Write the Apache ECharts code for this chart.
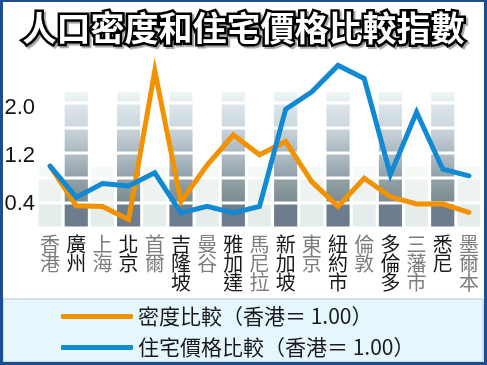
<!DOCTYPE html>
<html>
<head>
<meta charset="utf-8">
<script src="https://cdn.jsdelivr.net/npm/echarts@6/dist/echarts.min.js"></script>
<style>
html,body{margin:0;padding:0;background:#fff;}
#chart{width:487px;height:365px;}
</style>
</head>
<body>
<div id="chart"></div>
<script>
const categories = ['香港','廣州','上海','北京','首爾','吉隆坡','曼谷','雅加達','馬尼拉','新加坡','東京','紐約市','倫敦','多倫多','三藩市','悉尼','墨爾本'];
const densityIndex = [1.03,0.37,0.36,0.14,2.62,0.44,1.05,1.55,1.22,1.44,0.77,0.36,0.83,0.52,0.40,0.40,0.26];
const priceIndex = [1.03,0.51,0.74,0.70,0.92,0.25,0.36,0.25,0.36,1.98,2.27,2.71,2.49,0.89,1.93,0.98,0.87];
const yTickLabels = [0.4, 1.2, 2.0];
const seriesNames = ['密度比較（香港＝ 1.00）', '住宅價格比較（香港＝ 1.00）'];
// decorative background column bands (heights of stacked bands)
const darkBands = [0.4, 0.4, 0.4, 0.4, 0.4, 0.2];
const lightBands = [0.4, 0.4, 0.2];

const darkColors = [
  ['#6f7e8f', '#6c7b8c'],
  ['#93a3a6', '#7a8c91'],
  ['#b4c0c7', '#8e9ea8'],
  ['#cbd5db', '#aab7c0'],
  ['#dde7eb', '#cad7de'],
  ['#f1f7f6', '#e3ecee']
];
const lightColors = ['#e5ecec', '#eef3f2', '#f5f9f8'];

function grad(c) {
  return new echarts.graphic.LinearGradient(0, 0, 0, 1, [
    {offset: 0, color: c[0]}, {offset: 1, color: c[1]}
  ]);
}

const bandSeries = [];
const nBands = Math.max(darkBands.length, lightBands.length);
for (let b = 0; b < nBands; b++) {
  const data = categories.map((c, i) => {
    const dark = i % 2 === 1;
    const v = dark ? (darkBands[b] || 0) : (lightBands[b] || 0);
    return {
      value: v,
      itemStyle: {color: dark ? grad(darkColors[b]) : lightColors[b]}
    };
  });
  bandSeries.push({
    type: 'bar',
    stack: 'bg',
    yAxisIndex: 1,
    barCategoryGap: '0%',
    silent: true,
    itemStyle: {borderColor: '#ffffff', borderWidth: 1.5},
    data: data,
    z: 1
  });
}

const chart = echarts.init(document.getElementById('chart'));
chart.setOption({
  animation: false,
  backgroundColor: '#ffffff',
  title: {
    text: '人口密度和住宅價格比較指數',
    left: 'center',
    top: 11,
    padding: 0,
    textStyle: {
      fontFamily: 'Noto Sans CJK TC',
      fontSize: 34,
      fontWeight: 'bold',
      color: '#ffffff',
      textBorderColor: '#000000',
      textBorderWidth: 5,
      textShadowColor: 'rgba(0,0,0,0.35)',
      textShadowOffsetX: 2,
      textShadowOffsetY: 2,
      textShadowBlur: 1
    }
  },
  graphic: [
    {type: 'rect', z: -10, shape: {x: 3, y: 299, width: 480, height: 63},
     style: {fill: '#e6f6fd', stroke: '#b3c1cf', lineWidth: 1}},
    {type: 'rect', z: 100, shape: {x: 0, y: 0, width: 487, height: 2}, style: {fill: '#1c4d8c'}},
    {type: 'rect', z: 100, shape: {x: 0, y: 0, width: 3, height: 365}, style: {fill: '#1c4d8c'}},
    {type: 'rect', z: 100, shape: {x: 484, y: 0, width: 3, height: 365}, style: {fill: '#1c4d8c'}},
    {type: 'rect', z: 100, shape: {x: 0, y: 362, width: 487, height: 3}, style: {fill: '#1c4d8c'}}
  ],
  legend: {
    data: seriesNames,
    orient: 'vertical',
    left: 61,
    top: 306,
    icon: 'roundRect',
    itemWidth: 72,
    itemHeight: 5,
    itemGap: 10,
    padding: 0,
    textStyle: {fontFamily: 'Noto Sans CJK TC', fontSize: 21, lineHeight: 21, color: '#1a1a1a'}
  },
  grid: {left: 37, right: 5, top: 48, bottom: 137, containLabel: false},
  xAxis: {
    type: 'category',
    data: categories,
    boundaryGap: true,
    axisLine: {show: false},
    axisTick: {show: false},
    axisLabel: {
      interval: 0,
      margin: 7,
      fontFamily: 'Noto Sans CJK TC',
      fontSize: 20,
      lineHeight: 19,
      verticalAlign: 'top',
      color: function (v, i) { return i % 2 === 1 ? '#1a1a1a' : '#7d7d7d'; },
      formatter: function (v) { return v.split('').join('\n'); }
    }
  },
  yAxis: [
    {
      type: 'value',
      min: 0,
      max: 3,
      splitLine: {show: false},
      axisLine: {show: false},
      axisTick: {show: false},
      axisLabel: {
        customValues: yTickLabels,
        margin: 2,
        fontFamily: 'Liberation Sans',
        fontSize: 22,
        color: '#111111',
        formatter: function (v) { return v.toFixed(1); }
      }
    },
    {
      type: 'value',
      min: 0,
      max: 2.88,
      show: false,
      splitLine: {show: false}
    }
  ],
  series: bandSeries.concat([
    {
      name: seriesNames[0],
      type: 'line',
      data: densityIndex,
      symbol: 'none',
      z: 5,
      color: '#f39200',
      lineStyle: {width: 5, color: '#f39200', cap: 'round', join: 'miter'}
    },
    {
      name: seriesNames[1],
      type: 'line',
      data: priceIndex,
      symbol: 'none',
      z: 6,
      color: '#118ad3',
      lineStyle: {width: 5, color: '#118ad3', cap: 'round', join: 'miter'}
    }
  ])
});
</script>
</body>
</html>
